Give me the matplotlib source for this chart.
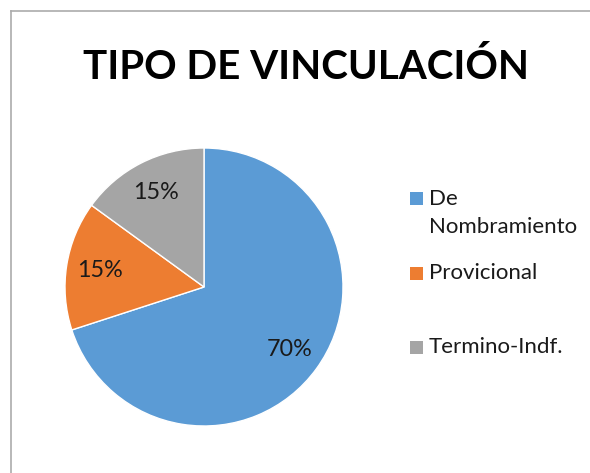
import matplotlib
matplotlib.use('Agg')
import matplotlib.pyplot as plt
from matplotlib.patches import Rectangle
from matplotlib.lines import Line2D

# data
categories = ['De\nNombramiento', 'Provicional', 'Termino-Indf.']
values = [70, 15, 15]
colors = ['#5B9BD5', '#ED7D31', '#A5A5A5']
title = 'TIPO DE VINCULACIÓN'

FONT = 'Lato'
W, H = 590, 473
fig = plt.figure(figsize=(W / 100, H / 100), dpi=100)
fig.patch.set_facecolor('white')
renderer = fig.canvas.get_renderer()


def px(x, y):
    # pixel coords (from top-left) -> figure fraction
    return x / W, 1 - y / H


def fit(txt, target_w):
    # scale font so the text is target_w pixels wide
    w = txt.get_window_extent(renderer).width
    txt.set_fontsize(txt.get_fontsize() * target_w / w)


# chart border (top and left visible)
fig.add_artist(Line2D([11 / W, 1], [1 - 11 / H] * 2, color='#ABABAB', lw=1.2))
fig.add_artist(Line2D([11 / W] * 2, [0, 1 - 11 / H], color='#ABABAB', lw=1.2))

# pie
cx, cy, r = 204, 287, 139
ax = fig.add_axes([(cx - r) / W, (H - cy - r) / H, 2 * r / W, 2 * r / H])
wedges, texts, autotexts = ax.pie(
    values, colors=colors, startangle=90, counterclock=False,
    autopct='%1.0f%%', pctdistance=0.76, radius=1,
    wedgeprops=dict(edgecolor='white', linewidth=1),
    textprops=dict(fontsize=14, family=FONT, color='#1a1a1a'))
ax.set_xlim(-1, 1)
ax.set_ylim(-1, 1)
ax.set_aspect('auto')
ax.axis('off')
for t in autotexts:
    fit(t, 46)

# title
fx, fy = px(306, 79)
t = fig.text(fx, fy, title, ha='center', va='baseline', fontsize=28,
             fontweight='bold', family=FONT, color='black')
fit(t, 447)

# legend drawn manually to match uneven spacing
sq = 13
legend_rows = [199, 273, 347]
lab_texts = []
for col, lab, yc in zip(colors, categories, legend_rows):
    x0, y0 = px(410, yc + sq / 2)
    fig.add_artist(Rectangle((x0, y0), sq / W, sq / H, facecolor=col,
                             edgecolor='none', transform=fig.transFigure))
    for i, part in enumerate(lab.split('\n')):
        tx, ty = px(429, yc + 28 * i)
        lab_texts.append(fig.text(tx, ty, part, ha='left', va='center',
                                  fontsize=14, family=FONT, color='#1a1a1a'))
fit(lab_texts[1], 148)
for lt in lab_texts:
    lt.set_fontsize(lab_texts[1].get_fontsize())

fig.savefig('out.png', dpi=100)
